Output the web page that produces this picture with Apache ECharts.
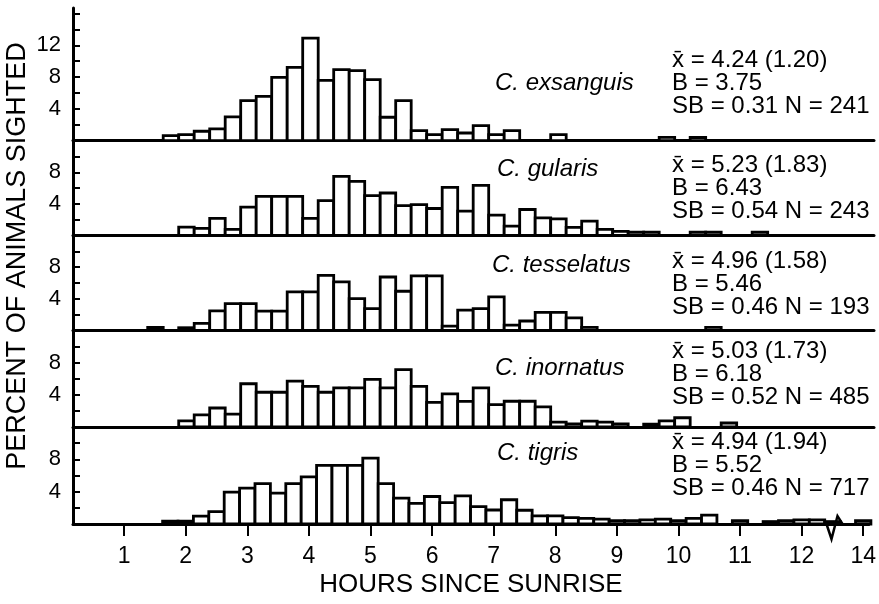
<!DOCTYPE html>
<html><head><meta charset="utf-8">
<script src="https://cdn.jsdelivr.net/npm/echarts@6/dist/echarts.min.js"></script>
<style>html,body{margin:0;padding:0;background:#fff}#c{width:879px;height:604px}</style>
</head><body><div id="c"></div>
<script>
// ---- data ----
const species = ['C. exsanguis', 'C. gularis', 'C. tesselatus', 'C. inornatus', 'C. tigris'];
const statsText = [
  'x\u0304 = 4.24 (1.20)\nB = 3.75\nSB = 0.31 N = 241',
  'x\u0304 = 5.23 (1.83)\nB = 6.43\nSB = 0.54 N = 243',
  'x\u0304 = 4.96 (1.58)\nB = 5.46\nSB = 0.46 N = 193',
  'x\u0304 = 5.03 (1.73)\nB = 6.18\nSB = 0.52 N = 485',
  'x\u0304 = 4.94 (1.94)\nB = 5.52\nSB = 0.46 N = 717'
];
// bin centers (hours since sunrise; last bin sits past the axis break)
const binCenters = [1.5, 1.75, 2, 2.25, 2.5, 2.75, 3, 3.25, 3.5, 3.75, 4, 4.25, 4.5, 4.75,
  5, 5.25, 5.5, 5.75, 6, 6.25, 6.5, 6.75, 7, 7.25, 7.5, 7.75, 8, 8.25, 8.5, 8.75,
  9, 9.25, 9.5, 9.75, 10, 10.25, 10.5, 10.75, 11, 11.25, 11.5, 11.75, 12, 12.25, 12.5, 12.75, 13];
const binWidth = 0.25;
const exsanguis = [0, 0.65, 0.76, 1.19, 1.48, 2.99, 5.05, 5.59, 7.98, 9.24, 12.92, 7.6, 8.95, 8.82,
  7.69, 2.95, 5.05, 1.28, 0.77, 1.4, 0.97, 1.9, 0.77, 1.28, 0, 0, 0.77, 0, 0, 0,
  0, 0, 0, 0.43, 0, 0.4, 0, 0, 0, 0, 0, 0, 0, 0, 0, 0, 0];
const gularis = [0, 0, 1.06, 0.9, 2.16, 0.77, 3.58, 4.96, 4.96, 4.96, 2.16, 4.42, 7.48, 6.85,
  5.05, 5.38, 3.79, 3.92, 3.42, 6.09, 3.08, 6.35, 2.57, 1.19, 3.29, 2.23, 2.1, 1.02, 1.82, 0.77,
  0.52, 0.41, 0.41, 0, 0, 0.41, 0.41, 0, 0, 0.41, 0, 0, 0, 0, 0, 0, 0];
const tesselatus = [0.38, 0, 0.35, 0.89, 2.48, 3.4, 3.4, 2.45, 2.45, 4.87, 4.87, 6.97, 6.13, 4.03,
  2.77, 6.76, 4.96, 6.89, 6.89, 0.56, 2.57, 2.77, 4.25, 0.69, 1.2, 2.3, 2.3, 1.6, 0.4, 0,
  0, 0, 0, 0, 0, 0, 0.4, 0, 0, 0, 0, 0, 0, 0, 0, 0, 0];
const inornatus = [0, 0, 0.76, 1.52, 2.36, 1.6, 5.38, 4.32, 4.32, 5.7, 5.04, 4.32, 4.87, 4.87,
  5.92, 4.87, 7.14, 5.04, 3.06, 4.12, 3.19, 4.87, 2.77, 3.2, 3.2, 2.5, 0.6, 0.4, 0.72, 0.6,
  0.4, 0, 0.35, 0.76, 1.15, 0, 0, 0.5, 0, 0, 0, 0, 0, 0, 0, 0, 0];
const tigris = [0, 0.35, 0.35, 0.97, 1.52, 3.95, 4.45, 5.0, 3.82, 5.0, 5.83, 7.26, 7.26, 7.26,
  8.14, 5.0, 3.19, 2.56, 3.4, 2.65, 3.49, 2.15, 1.73, 3.0, 1.7, 1.0, 1.0, 0.8, 0.7, 0.6,
  0.4, 0.4, 0.5, 0.6, 0.4, 0.7, 1.1, 0, 0.4, 0, 0.3, 0.4, 0.5, 0.5, 0.3, 0, 0.4];
const seriesValues = [exsanguis, gularis, tesselatus, inornatus, tigris];
const xTickValues = [1, 2, 3, 4, 5, 6, 7, 8, 9, 10, 11, 12, 13];
const xTickLabels = ['1', '2', '3', '4', '5', '6', '7', '8', '9', '10', '11', '12', '14'];
const yTickValues = [2, 4, 6, 8, 10, 12, 14, 16];
const yLabelValuesTop = [4, 8, 12];
const yLabelValues = [4, 8];

// ---- layout ----
const FONT = '"Liberation Sans", Arial, Helvetica, sans-serif';
const gridLeft = 73, gridRight = 5;
const panelTop = [8, 140.7, 235.5, 330.5, 427];
const panelBase = [140.7, 235.5, 330.5, 427, 524];
const yMax = [16.7, 12, 12, 12, 12];
const xMin = 0.17, xMax = 13.09;
const speciesPos = [[495, 83], [497, 169], [492, 265], [495, 368], [497, 453]];
const statsPos = [[672, 83], [672, 188.5], [672, 284.5], [672, 374], [672, 465.5]];

const chart = echarts.init(document.getElementById('c'), null, { renderer: 'canvas' });

const grids = [], xAxes = [], yAxes = [], series = [];
for (let i = 0; i < 5; i++) {
  grids.push({ left: gridLeft, right: gridRight, top: panelTop[i], height: panelBase[i] - panelTop[i], containLabel: false });
  const bottom = i === 4;
  xAxes.push({
    type: 'value', gridIndex: i, min: xMin, max: xMax,
    axisLine: { show: true, lineStyle: { color: '#000', width: 3 } },
    axisTick: bottom ? { show: true, inside: false, length: 12, customValues: xTickValues, lineStyle: { color: '#000', width: 2 } } : { show: false },
    axisLabel: bottom ? {
      show: true, customValues: xTickValues, margin: 21, color: '#000', fontSize: 23, fontFamily: FONT,
      formatter: v => { const k = xTickValues.indexOf(Math.round(v)); return k >= 0 ? xTickLabels[k] : ''; }
    } : { show: false },
    splitLine: { show: false },
    name: bottom ? 'HOURS SINCE SUNRISE' : '',
    nameLocation: 'middle', nameGap: 48,
    nameTextStyle: { color: '#000', fontSize: 26, fontFamily: FONT }
  });
  const labVals = i === 0 ? yLabelValuesTop : yLabelValues;
  yAxes.push({
    type: 'value', gridIndex: i, min: 0, max: yMax[i],
    axisLine: { show: true, lineStyle: { color: '#000', width: 3 } },
    axisTick: { show: true, inside: true, length: 7, customValues: yTickValues.filter(v => v < yMax[i]), lineStyle: { color: '#000', width: 2 } },
    axisLabel: { show: true, customValues: labVals, margin: 12, color: '#000', fontSize: 22, fontFamily: FONT },
    splitLine: { show: false }
  });
  series.push({
    type: 'custom', xAxisIndex: i, yAxisIndex: i,
    data: binCenters.map((h, k) => [h, seriesValues[i][k]]),
    renderItem: (params, api) => {
      const x = api.value(0), y = api.value(1);
      if (!y) return null;
      const p0 = api.coord([x - binWidth / 2, y]);
      const p1 = api.coord([x + binWidth / 2, 0]);
      return {
        type: 'rect',
        shape: { x: p0[0], y: p0[1], width: p1[0] - p0[0], height: p1[1] - p0[1] },
        style: { fill: '#fff', stroke: '#000', lineWidth: 2.8 }
      };
    },
    silent: true, animation: false
  });
}

const graphics = [];
for (let i = 0; i < 5; i++) {
  graphics.push({
    type: 'text', x: speciesPos[i][0], y: speciesPos[i][1],
    style: { text: species[i], font: 'italic 24px ' + FONT, fill: '#000', verticalAlign: 'middle', align: 'left' }
  });
  graphics.push({
    type: 'text', x: statsPos[i][0], y: statsPos[i][1],
    style: { text: statsText[i], font: '24px ' + FONT, fill: '#000', verticalAlign: 'middle', align: 'left', lineHeight: 23 }
  });
}
graphics.push({
  type: 'text', x: 18, y: 256, rotation: Math.PI / 2,
  style: { text: 'PERCENT OF ANIMALS SIGHTED', font: '27px ' + FONT, fill: '#000', align: 'center', verticalAlign: 'middle' }
});

chart.setOption({
  animation: false,
  backgroundColor: '#fff',
  grid: grids, xAxis: xAxes, yAxis: yAxes, series: series,
  graphic: graphics
});

// axis-break zigzag on the bottom axis, placed through the axis scale
const zx = chart.convertToPixel({ xAxisIndex: 4 }, 12.55);
const zy = chart.convertToPixel({ yAxisIndex: 4 }, 0);
chart.setOption({
  graphic: graphics.concat([{
    type: 'polyline',
    shape: { points: [[zx - 9, zy], [zx - 4, zy + 15], [zx + 2, zy - 8], [zx + 7, zy]] },
    style: { stroke: '#000', lineWidth: 2.5, fill: null }
  }])
});
</script>
</body></html>
